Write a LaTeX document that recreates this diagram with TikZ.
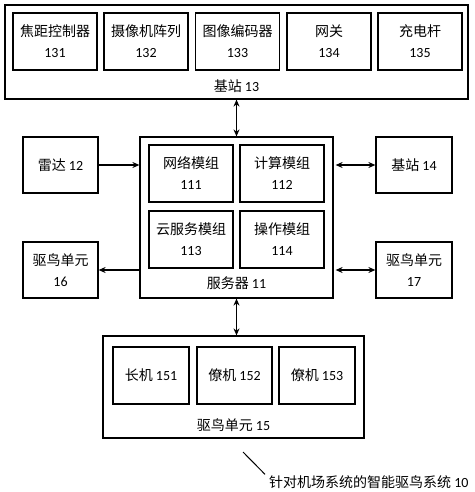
\documentclass[tikz,border=0pt]{standalone}
\usepackage{fontspec}
\setmainfont{Carlito}
\newfontfamily\cjk{Noto Sans CJK SC}
\usetikzlibrary{arrows.meta}
\newcommand{\zh}[1]{{\cjk #1}}
\tikzset{
  box/.style={draw, line width=1.2pt, inner sep=0pt, align=center, font=\fontsize{14}{21}\selectfont},
  lbl/.style={inner sep=0pt, font=\fontsize{14}{16}\selectfont},
  arr/.style={line width=1.2pt, -{Stealth[length=7pt,width=6pt]}},
  darr/.style={line width=1.2pt, {Stealth[length=7pt,width=6pt]}-{Stealth[length=7pt,width=6pt]}}
}
\begin{document}
\begin{tikzpicture}[x=1pt,y=-1pt]
\useasboundingbox (0,0) rectangle (474,492);
% base station 13
\node[box, minimum width=463pt, minimum height=94pt] (base) at (236.5,52) {};
\node[box, minimum width=84pt, minimum height=57pt] (b131) at (55,41.5) {\zh{焦距控制器}\\131};
\node[box, minimum width=84pt, minimum height=57pt] (b132) at (146,41.5) {\zh{摄像机阵列}\\132};
\node[box, minimum width=84pt, minimum height=57pt] (b133) at (237.5,41.5) {\zh{图像编码器}\\133};
\node[box, minimum width=84pt, minimum height=57pt] (b134) at (329,41.5) {\zh{网关}\\134};
\node[box, minimum width=84pt, minimum height=57pt] (b135) at (420,41.5) {\zh{充电杆}\\135};
\node[lbl] (baselbl) at (236.5,86) {\zh{基站} 13};
% server 11
\node[box, minimum width=193pt, minimum height=161pt] (server) at (236.5,217.5) {};
\node[box, minimum width=84pt, minimum height=57pt] (s111) at (191,173.5) {\zh{网络模组}\\111};
\node[box, minimum width=84pt, minimum height=57pt] (s112) at (282,173.5) {\zh{计算模组}\\112};
\node[box, minimum width=84pt, minimum height=57pt] (s113) at (191,239.5) {\zh{云服务模组}\\113};
\node[box, minimum width=84pt, minimum height=57pt] (s114) at (282,239.5) {\zh{操作模组}\\114};
\node[lbl] (serverlbl) at (236.5,283) {\zh{服务器} 11};
% side boxes
\node[box, minimum width=75pt, minimum height=56pt] (radar) at (60.5,165) {\zh{雷达} 12};
\node[box, minimum width=76pt, minimum height=56pt] (b14) at (414,165) {\zh{基站} 14};
\node[box, minimum width=75pt, minimum height=56pt] (d16) at (60.5,270) {\zh{驱鸟单元}\\16};
\node[box, minimum width=76pt, minimum height=56pt] (d17) at (414,270) {\zh{驱鸟单元}\\17};
% bird repelling unit 15
\node[box, minimum width=261pt, minimum height=102pt] (d15) at (233.5,387) {};
\node[box, minimum width=76pt, minimum height=57pt] (u151) at (151,375.5) {\zh{长机} 151};
\node[box, minimum width=75pt, minimum height=57pt] (u152) at (234.5,375.5) {\zh{僚机} 152};
\node[box, minimum width=76pt, minimum height=57pt] (u153) at (317,375.5) {\zh{僚机} 153};
\node[lbl] (d15lbl) at (233.5,425) {\zh{驱鸟单元} 15};
% connectors
\draw[darr] (base.south) -- (server.north);
\draw[darr] (server.south) -- (server.south |- d15.north);
\draw[arr] (radar.east) -- (server.west |- radar.east);
\draw[arr] (server.west |- d16.east) -- (d16.east);
\draw[darr] ([xshift=2pt]server.east |- b14.west) -- (b14.west);
\draw[darr] ([xshift=2pt]server.east |- d17.west) -- (d17.west);
% system label
\node[lbl, anchor=west] (note) at (269,482) {\zh{针对机场系统的智能驱鸟系统} 10};
\coordinate (lstart) at (243,452);
\draw[line width=1pt] (lstart) -- ([xshift=-4pt,yshift=1pt]note.north west);
\end{tikzpicture}
\end{document}
